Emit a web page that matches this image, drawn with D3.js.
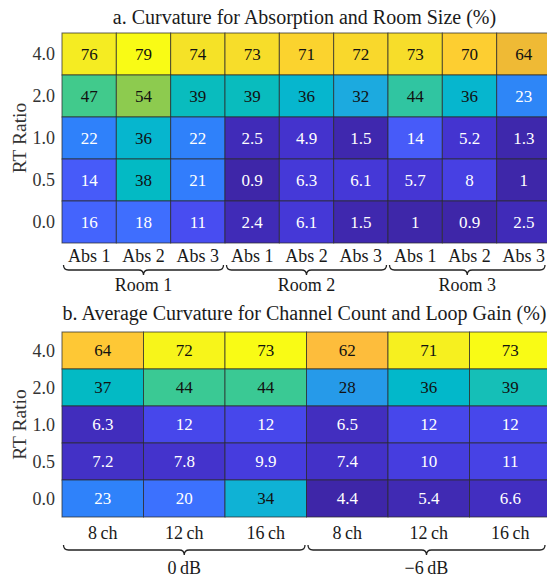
<!DOCTYPE html>
<html>
<head>
<meta charset="utf-8">
<script src="https://cdn.jsdelivr.net/npm/d3@7"></script>
<style>
  html, body { margin: 0; padding: 0; background: #fff; }
  svg { display: block; }
  text { font-family: "Liberation Serif", "DejaVu Serif", serif; fill: #1a1a1a; }
</style>
</head>
<body>
<svg id="fig" width="547" height="578"></svg>
<script>
// ---- data -----------------------------------------------------------
const rtRatios = ["4.0", "2.0", "1.0", "0.5", "0.0"];

// a. absorption × room size
const absLabels = ["Abs 1", "Abs 2", "Abs 3", "Abs 1", "Abs 2", "Abs 3", "Abs 1", "Abs 2", "Abs 3"];
const roomGroups = ["Room 1", "Room 2", "Room 3"];
const curvatureA = [
  [76, 79, 74, 73, 71, 72, 73, 70, 64],
  [47, 54, 39, 39, 36, 32, 44, 36, 23],
  [22, 36, 22, 2.5, 4.9, 1.5, 14, 5.2, 1.3],
  [14, 38, 21, 0.9, 6.3, 6.1, 5.7, 8, 1],
  [16, 18, 11, 2.4, 6.1, 1.5, 1, 0.9, 2.5]
];

// b. channel count × loop gain
const channelLabels = ["8\u2009ch", "12\u2009ch", "16\u2009ch", "8\u2009ch", "12\u2009ch", "16\u2009ch"];
const gainGroups = ["0\u2009dB", "\u22126\u2009dB"];
const curvatureB = [
  [64, 72, 73, 62, 71, 73],
  [37, 44, 44, 28, 36, 39],
  [6.3, 12, 12, 6.5, 12, 12],
  [7.2, 7.8, 9.9, 7.4, 10, 11],
  [23, 20, 34, 4.4, 5.4, 6.6]
];

// parula colormap (64 entries)
const parula = [
[0.2422,0.1504,0.6603],[0.2504,0.1650,0.7076],[0.2578,0.1818,0.7511],[0.2647,0.1978,0.7952],
[0.2706,0.2147,0.8364],[0.2751,0.2342,0.8710],[0.2783,0.2559,0.8991],[0.2803,0.2782,0.9221],
[0.2813,0.3006,0.9414],[0.2810,0.3228,0.9579],[0.2795,0.3447,0.9717],[0.2760,0.3667,0.9829],
[0.2699,0.3892,0.9906],[0.2602,0.4123,0.9952],[0.2440,0.4358,0.9988],[0.2206,0.4603,0.9973],
[0.1963,0.4847,0.9892],[0.1834,0.5074,0.9798],[0.1786,0.5289,0.9682],[0.1764,0.5499,0.9520],
[0.1687,0.5703,0.9359],[0.1540,0.5902,0.9218],[0.1460,0.6091,0.9079],[0.1380,0.6276,0.8973],
[0.1248,0.6459,0.8883],[0.1113,0.6635,0.8763],[0.0952,0.6798,0.8598],[0.0689,0.6948,0.8394],
[0.0297,0.7082,0.8163],[0.0036,0.7203,0.7917],[0.0067,0.7312,0.7660],[0.0433,0.7411,0.7394],
[0.0964,0.7500,0.7120],[0.1408,0.7584,0.6842],[0.1717,0.7670,0.6554],[0.1938,0.7758,0.6251],
[0.2161,0.7843,0.5923],[0.2470,0.7918,0.5567],[0.2906,0.7973,0.5188],[0.3406,0.8008,0.4789],
[0.3909,0.8029,0.4354],[0.4456,0.8024,0.3909],[0.5044,0.7993,0.3480],[0.5616,0.7942,0.3045],
[0.6174,0.7876,0.2612],[0.6720,0.7793,0.2227],[0.7242,0.7698,0.1910],[0.7738,0.7598,0.1646],
[0.8203,0.7498,0.1535],[0.8634,0.7406,0.1596],[0.9035,0.7330,0.1774],[0.9393,0.7288,0.2100],
[0.9728,0.7298,0.2394],[0.9956,0.7434,0.2371],[0.9970,0.7659,0.2199],[0.9952,0.7893,0.2028],
[0.9892,0.8136,0.1885],[0.9786,0.8386,0.1766],[0.9676,0.8639,0.1643],[0.9610,0.8890,0.1537],
[0.9597,0.9135,0.1423],[0.9628,0.9373,0.1265],[0.9691,0.9606,0.1064],[0.9769,0.9839,0.0805]
];
const parulaInterp = d3.interpolateRgbBasis(parula.map(c => d3.rgb(c[0]*255, c[1]*255, c[2]*255)));

const fmt = d3.format(".2~g");
const svg = d3.select("#fig");

function textColour(fill) {
  const c = d3.rgb(fill);
  const lum = (0.2126 * c.r + 0.7152 * c.g + 0.0722 * c.b) / 255;
  return lum > 0.5 ? "#111" : "#fff";
}

function brace(x0, x1, y) {
  const r = 5, h = 5, xm = (x0 + x1) / 2;
  return `M${x0},${y} Q${x0},${y + h} ${x0 + r},${y + h} H${xm - r} ` +
         `Q${xm},${y + h} ${xm},${y + 2 * h} Q${xm},${y + h} ${xm + r},${y + h} ` +
         `H${x1 - r} Q${x1},${y + h} ${x1},${y}`;
}

function heatmap(cfg) {
  const { values, cols, groups, perGroup, left, right, top, rowH, title, titleY, tickY, braceY, groupY, rightLimit } = cfg;
  const g = svg.append("g");
  const x = d3.scaleBand().domain(d3.range(cols.length)).range([left, right]);
  const y = d3.scaleBand().domain(rtRatios).range([top, top + rowH * rtRatios.length]);
  const flat = values.flat();
  const colour = d3.scaleSequential(parulaInterp).domain(d3.extent(flat));

  const cells = [];
  values.forEach((row, i) => row.forEach((v, j) => cells.push({ r: rtRatios[i], c: j, v })));

  g.selectAll("rect.cell").data(cells).join("rect")
    .attr("class", "cell")
    .attr("x", d => x(d.c)).attr("y", d => y(d.r))
    .attr("width", x.bandwidth()).attr("height", y.bandwidth())
    .attr("fill", d => colour(d.v))
    .attr("stroke", "#2b2b2b").attr("stroke-opacity", 0.75).attr("stroke-width", 1);

  g.selectAll("text.val").data(cells).join("text")
    .attr("class", "val")
    .attr("x", d => x(d.c) + x.bandwidth() / 2)
    .attr("y", d => y(d.r) + y.bandwidth() / 2)
    .attr("text-anchor", "middle").attr("dominant-baseline", "central")
    .style("font-size", "17px")
    .style("fill", d => textColour(colour(d.v)))
    .text(d => fmt(d.v));

  // row ticks
  g.selectAll("text.ytick").data(rtRatios).join("text")
    .attr("class", "ytick")
    .attr("x", left - 7).attr("y", d => y(d) + y.bandwidth() / 2)
    .attr("text-anchor", "end").attr("dominant-baseline", "central")
    .style("font-size", "18px").style("fill", "#333")
    .text(d => d);

  // column ticks
  g.selectAll("text.xtick").data(cols).join("text")
    .attr("class", "xtick")
    .attr("x", (d, i) => x(i) + x.bandwidth() / 2).attr("y", tickY)
    .attr("text-anchor", "middle")
    .style("font-size", "18px")
    .text(d => d);

  // group braces and labels
  groups.forEach((name, k) => {
    const gx0 = x(k * perGroup) + 1.5;
    const gx1 = Math.min(x(k * perGroup + perGroup - 1) + x.bandwidth() - 1.5, rightLimit);
    g.append("path").attr("d", brace(gx0, gx1, braceY))
      .attr("fill", "none").attr("stroke", "#222").attr("stroke-width", 1.3);
    g.append("text")
      .attr("x", (gx0 + gx1) / 2).attr("y", groupY)
      .attr("text-anchor", "middle").style("font-size", "18px")
      .text(name);
  });

  // y axis label
  const cy = top + rowH * rtRatios.length / 2;
  g.append("text")
    .attr("transform", `translate(19,${cy}) rotate(-90)`)
    .attr("text-anchor", "middle").attr("dominant-baseline", "central")
    .style("font-size", "19.5px").style("fill", "#333")
    .text("RT Ratio");

  g.append("text")
    .attr("x", (left + right) / 2 - 2).attr("y", titleY)
    .attr("text-anchor", "middle").style("font-size", "20px")
    .text(title);
}

heatmap({
  values: curvatureA, cols: absLabels, groups: roomGroups, perGroup: 3,
  left: 62, right: 551, top: 33, rowH: 42,
  title: "a. Curvature for Absorption and Room Size (%)", titleY: 24,
  tickY: 262, braceY: 265, groupY: 291, rightLimit: 545
});

heatmap({
  values: curvatureB, cols: channelLabels, groups: gainGroups, perGroup: 3,
  left: 62, right: 551, top: 332, rowH: 37,
  title: "b. Average Curvature for Channel Count and Loop Gain (%)", titleY: 320,
  tickY: 539, braceY: 545, groupY: 574, rightLimit: 545
});
</script>
</body>
</html>
